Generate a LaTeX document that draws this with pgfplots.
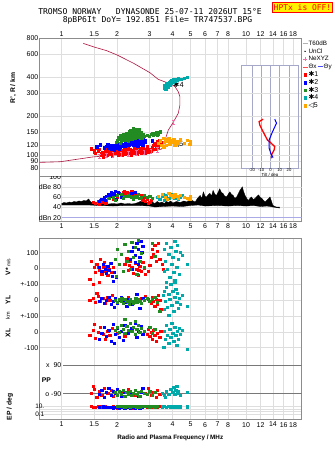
\documentclass[border=0pt]{standalone}
\usepackage{pgfplots}
\pgfplotsset{compat=1.18}
\usepackage{fontspec}
\setmainfont{Liberation Sans}
\newfontfamily\mono{DejaVu Sans Mono}
\newfontfamily\dejavu{DejaVu Sans}
\definecolor{c1}{RGB}{255,0,0}
\definecolor{c2}{RGB}{0,0,255}
\definecolor{c3}{RGB}{34,139,34}
\definecolor{c4}{RGB}{0,170,170}
\definecolor{c5}{RGB}{255,165,0}
\definecolor{prof}{RGB}{175,20,65}
\definecolor{pinkI}{RGB}{240,110,170}
\definecolor{gridc}{RGB}{222,222,222}
\definecolor{axc}{RGB}{140,140,140}
\definecolor{insc}{RGB}{165,168,200}
\definecolor{lav}{RGB}{170,170,230}
\definecolor{darkl}{RGB}{120,120,120}
\pgfdeclareplotmark{Ibar}{%
 \pgfpathmoveto{\pgfqpoint{0bp}{-2.2bp}}\pgfpathlineto{\pgfqpoint{0bp}{2.2bp}}%
 \pgfpathmoveto{\pgfqpoint{-1.3bp}{-2.2bp}}\pgfpathlineto{\pgfqpoint{1.3bp}{-2.2bp}}%
 \pgfpathmoveto{\pgfqpoint{-1.3bp}{2.2bp}}\pgfpathlineto{\pgfqpoint{1.3bp}{2.2bp}}%
 \pgfusepathqstroke}
\pgfplotsset{
 lgline/.style={legend image code/.code={\draw[##1] (0bp,0bp) -- (5bp,0bp);}},
 lgmark/.style={legend image code/.code={\draw[##1] plot coordinates {(2.5bp,0bp)};}},
 sq/.style={forget plot, only marks, mark=square*, mark size=1.15bp, color=#1, mark options={draw=none, fill=#1}},
}
\begin{document}
\begin{tikzpicture}
\path[use as bounding box] (0bp,0bp) rectangle (335bp,451bp);
% ---------- top panel ----------
\begin{axis}[anchor=south west, at={(39.5bp,274.3bp)}, scale only axis, width=262.2bp, height=138.7bp,
  xmode=log, ymode=log, xmin=0.758, xmax=20.05, ymin=68.7, ymax=800,
  xtick={1,1.5,2,3,4,5,6,7,8,10,12,14,16,18}, xticklabels={1,1.5,2,3,4,5,6,7,8,10,12,14,16,18},
  ytick={80,90,100,120,150,200,300,400,600,800}, yticklabels={80,90,100,120,150,200,300,400,600,800},
  minor xtick={}, minor ytick={}, xmajorgrids, ymajorgrids, major grid style={gridc, line width=0.5bp},
  axis line style={axc, line width=0.6bp}, major tick length=0pt,
  tick label style={font=\fontsize{7}{7}\selectfont, inner sep=1bp},
  xticklabel pos=upper,
  legend style={at={(1,1)}, anchor=north west, xshift=0.3bp, yshift=-1.5bp, draw=none, fill=none,
    font=\fontsize{6.3}{6.3}\selectfont, row sep=0.2bp, inner sep=0pt,
    nodes={inner xsep=0.6bp, inner ysep=0.3bp, text height=5.4bp, text depth=1.6bp}},
  legend cell align=left]
\addlegendimage{lgline, gray!60, line width=0.8bp}\addlegendentry{T60dB}
\addlegendimage{only marks, mark=*, mark size=0.4bp, black, lgmark}\addlegendentry{UnCl}
\addlegendimage{only marks, mark=+, mark size=2bp, pinkI, lgmark}\addlegendentry{NeXYZ}
\addlegendimage{lgline, c1!70, line width=0.6bp}\addlegendentry{Θx\,\textcolor{c2!70}{\rule[1.8bp]{5bp}{0.6bp}}\,Θy}
\addlegendimage{only marks, mark=square*, mark size=1.4bp, c1, lgmark}\addlegendentry{\fontsize{7}{7}\selectfont{\dejavu ✱}1}
\addlegendimage{only marks, mark=square*, mark size=1.4bp, c2, lgmark}\addlegendentry{\fontsize{7}{7}\selectfont{\dejavu ✱}2}
\addlegendimage{only marks, mark=square*, mark size=1.4bp, c3, lgmark}\addlegendentry{\fontsize{7}{7}\selectfont{\dejavu ✱}3}
\addlegendimage{only marks, mark=square*, mark size=1.4bp, c4, lgmark}\addlegendentry{\fontsize{7}{7}\selectfont{\dejavu ✱}4}
\addlegendimage{only marks, mark=square*, mark size=1.4bp, c5, lgmark}\addlegendentry{\fontsize{7}{7}\selectfont{\dejavu ◁}5}
% red *1
\addplot[sq=c1] coordinates {(1.45,113)(1.5,110)(1.52,104)(1.58,108)(1.62,101)(1.66,106)(1.7,103)(1.72,110)(1.76,100)(1.8,105)(1.83,108)(1.86,102)(1.9,106)(1.93,111)(1.96,104)(2.0,108)(2.02,101)(2.05,113)(2.08,106)(2.1,110)(2.14,103)(2.17,108)(2.2,113)(2.23,105)(2.27,110)(2.3,115)(2.33,107)(2.36,112)(2.4,104)(2.43,109)(2.47,114)(2.5,107)(2.54,111)(2.58,116)(2.62,108)(2.66,113)(2.7,110)(2.75,115)(2.8,108)(2.85,112)(2.9,117)(3.0,112)(3.1,115)(3.15,120)(3.2,124)(3.25,118)(3.3,128)(3.35,122)(3.4,130)(3.45,126)(1.55,115)(2.25,118)(2.6,118)(2.0,117)(1.68,98)(1.88,99)(2.12,100)(2.38,101)(2.56,103)(2.72,104)(2.95,106)(3.05,109)(1.6,112)(1.78,113)(2.45,106)(2.65,106)(2.85,105)(3.2,112)(1.5,106)(1.64,104)(1.74,107)(1.84,104)(1.98,110)(2.04,105)(2.15,106)(2.28,107)(2.35,104)(2.52,109)(2.68,108)(2.78,111)(2.92,110)(3.08,112)(3.25,113)(3.35,116)(3.42,120)(2.2,102)(2.48,104)(1.92,108)};
% blue *2
\addplot[sq=c2] coordinates {(1.55,117)(1.62,121)(1.7,115)(1.75,118)(1.8,114)(1.84,117)(1.87,120)(1.9,113)(1.92,116)(1.95,119)(1.97,122)(2.0,114)(2.02,118)(2.05,121)(2.08,116)(2.1,124)(2.13,119)(2.16,122)(2.2,118)(2.22,126)(2.25,121)(2.28,124)(2.3,129)(2.33,120)(2.36,126)(2.38,131)(2.4,123)(2.43,128)(2.46,133)(2.48,120)(2.5,126)(2.52,131)(2.55,124)(2.57,135)(2.6,128)(2.63,122)(2.65,131)(2.68,126)(2.7,134)(2.73,129)(2.76,123)(2.78,132)(2.82,127)(2.85,130)(1.78,121)(1.93,111)(2.06,112)(2.58,119)(3.1,130)(1.85,112)(1.99,117)(2.45,120)(2.62,125)(2.75,120)(1.88,116)(1.96,114)(2.04,116)(2.18,121)(2.32,124)(2.42,126)(2.54,128)(2.66,128)(2.72,124)(2.8,130)(2.35,122)(2.5,122)};
% green *3
\addplot[sq=c3] coordinates {(2.0,130)(2.02,138)(2.05,134)(2.08,142)(2.1,128)(2.12,136)(2.15,145)(2.18,132)(2.2,140)(2.23,148)(2.25,135)(2.28,143)(2.3,130)(2.32,152)(2.35,139)(2.38,146)(2.4,133)(2.42,155)(2.45,141)(2.48,149)(2.5,136)(2.52,158)(2.55,144)(2.58,151)(2.6,138)(2.63,147)(2.66,141)(2.7,150)(2.73,137)(2.76,145)(2.8,140)(2.9,143)(2.98,140)(3.05,145)(3.12,148)(3.2,146)(3.28,150)(3.35,147)(3.42,152)(2.45,162)(2.62,160)(2.35,155)(1.97,126)(2.07,125)(2.22,132)(2.4,142)(2.56,139)(2.68,135)(2.14,140)(2.26,138)(2.36,143)(2.46,146)(2.54,148)(2.64,144)(2.72,141)(2.5,152)(2.3,146)(3.15,143)(3.3,144)};
% teal *4
\addplot[sq=c4] coordinates {(3.6,330)(3.62,345)(3.65,338)(3.68,352)(3.7,340)(3.72,360)(3.75,348)(3.78,335)(3.8,355)(3.83,365)(3.86,350)(3.9,372)(3.93,360)(3.96,378)(4.0,366)(4.05,382)(4.1,372)(4.15,385)(4.2,378)(4.3,390)(4.45,385)(4.6,395)(4.8,398)(3.64,322)(3.7,326)};
% orange *5
\addplot[sq=c5] coordinates {(3.35,124)(3.42,130)(3.48,120)(3.55,135)(3.6,126)(3.65,132)(3.7,120)(3.75,128)(3.8,136)(3.85,123)(3.9,131)(4.0,126)(4.05,134)(4.1,121)(4.2,129)(4.3,125)(4.4,132)(4.6,125)(4.8,131)(4.95,122)(5.0,128)(3.58,117)};
% profile
\addplot[forget plot, prof, line width=0.6bp] coordinates {(0.758,88.5)(0.98,89.5)(1.48,97.5)(2.0,101)(2.25,103)(2.66,106)(3.14,108)(3.48,112)(3.58,120)(3.63,130)(3.79,157)(4.03,180)(4.29,211)(4.38,244)(4.38,283)(4.29,309)(4.12,338)(3.87,358)(3.63,368)(3.34,385)(3.01,433)(2.45,512)(2.0,592)(1.75,640)(1.52,678)(1.31,727)};
\addplot[forget plot, only marks, mark=Ibar, pinkI, mark options={line width=0.5bp}] coordinates {(1.6,99)(1.75,100)(1.9,101)(2.1,102)(2.3,103)(2.55,105)(2.8,106)(3.05,108)(3.3,111)(4.03,181)};
\node[font=\fontsize{7.5}{7.5}\selectfont] at (axis cs:2.55,106) {{\dejavu ✱}1};
\node[font=\fontsize{7.5}{7.5}\selectfont] at (axis cs:2.38,120) {{\dejavu ✱}2};
\node[font=\fontsize{7.5}{7.5}\selectfont] at (axis cs:2.58,139) {{\dejavu ✱}3};
\node[font=\fontsize{7.5}{7.5}\selectfont] at (axis cs:4.3,348) {{\dejavu ✱}4};
\node[font=\fontsize{7.5}{7.5}\selectfont] at (axis cs:4.3,122) {{\dejavu ◁}5};
\end{axis}
% ---------- inset ----------
\begin{axis}[at={(241.7bp,282.7bp)}, anchor=south west, scale only axis, width=56.6bp, height=103.3bp,
  xmin=-31, xmax=30, ymode=log, ymin=79.6, ymax=496,
  xtick={-20,-10,0,10,20}, xticklabels={-20,-10,0,10,20},
  ytick={80,90,100,120,150,200,300,400}, yticklabels={},
  xmajorgrids, ymajorgrids, major x grid style={insc, line width=0.6bp}, major y grid style={gridc, line width=0.5bp},
  axis line style={insc, line width=0.6bp}, major tick length=0pt, minor ytick={},
  axis background/.style={fill=white},
  xticklabel style={font=\fontsize{4.2}{4.2}\selectfont, inner sep=0.3bp},
  xlabel={Tilt / deg}, xlabel style={font=\fontsize{4.4}{4.4}\selectfont, inner sep=0pt, at={(axis description cs:0.5,0)}, anchor=north, yshift=-5bp}]
\addplot[c1, line width=1.3bp] coordinates {(-7.9,190)(-12.2,182)(-11.5,171)(-7.9,152)(-3.2,131)(-0.75,127)(4.6,117)(3.9,110)(1.1,101)(1.1,95)};
\addplot[c2, line width=1bp] coordinates {(4.6,190)(6.5,177)(2.2,152)(-1.5,131)(-1.5,114)(0.3,104)(2.8,96)};
\end{axis}
% ---------- dB panel ----------
\begin{axis}[anchor=south west, at={(39.5bp,229.3bp)}, scale only axis, width=262.2bp, height=45bp,
  xmode=log, xmin=0.758, xmax=20.05, ymin=12, ymax=101,
  xtick={1,1.5,2,3,4,5,6,7,8,10,12,14,16,18}, xticklabels={1,1.5,2,3,4,5,6,7,8,10,12,14,16,18},
  ytick=\empty, minor xtick={}, xmajorgrids, major grid style={gridc, line width=0.5bp},
  axis line style={axc, line width=0.6bp}, major tick length=0pt,
  tick label style={font=\fontsize{7}{7}\selectfont, inner sep=1bp}, xticklabel style={yshift=-0.5bp}]
\addplot[forget plot, gridc, line width=0.5bp] coordinates {(1.01,40)(20.05,40)};
\addplot[forget plot, gridc, line width=0.5bp] coordinates {(1.01,60)(20.05,60)};
\addplot[forget plot, gridc, line width=0.5bp] coordinates {(1.01,80)(20.05,80)};
\addplot[forget plot, lav, line width=0.7bp] coordinates {(1.01,20)(20.05,20)};
\addplot[forget plot, fill=black, draw=black, line width=0.3bp] coordinates {(1.0,48)(1.03,50)(1.06,49)(1.1,51)(1.13,50)(1.17,52)(1.2,51)(1.24,53)(1.28,52)(1.32,54)(1.36,53)(1.4,57)(1.43,52)(1.47,49)(1.52,48)(1.6,47)(1.7,48)(1.8,47)(1.9,48)(2.0,47)(2.1,49)(2.2,47)(2.3,48)(2.4,47)(2.5,48)(2.6,50)(2.7,53)(2.75,56)(2.8,52)(2.85,55)(2.9,50)(3.0,49)(3.1,51)(3.2,48)(3.3,52)(3.4,49)(3.5,51)(3.6,48)(3.7,52)(3.8,50)(3.9,53)(4.0,49)(4.2,52)(4.4,50)(4.6,53)(4.8,51)(4.97,61)(5.1,54)(5.3,51)(5.45,58)(5.64,64)(5.75,58)(5.87,71)(6.0,62)(6.12,61)(6.25,66)(6.37,68)(6.5,63)(6.63,74)(6.78,66)(6.92,64)(7.05,70)(7.2,77)(7.35,70)(7.5,68)(7.65,63)(7.84,61)(8.0,66)(8.17,71)(8.35,66)(8.52,64)(8.7,58)(8.9,61)(9.1,68)(9.27,74)(9.55,81)(9.7,72)(9.88,64)(10.1,58)(10.3,54)(10.5,58)(10.7,61)(10.95,56)(11.2,58)(11.45,62)(11.7,65)(11.95,60)(12.2,58)(12.45,54)(12.7,51)(13.1,56)(13.5,61)(13.75,52)(14.0,44)(14.6,41)(15.2,41)(15.2,39)(14.6,40)(14.0,41)(13.0,43)(12.0,42)(11.0,44)(10.0,43)(9.0,44)(8.0,43)(7.0,44)(6.0,43)(5.5,45)(5.0,44)(4.5,42)(4.0,43)(3.5,42)(3.2,41)(3.0,43)(2.6,44)(2.2,44)(1.9,43)(1.6,44)(1.4,45)(1.2,45)(1.0,45)};
\addplot[sq=c1] coordinates {(1.48,50)(1.52,48)(1.58,52)(1.62,55)(1.67,51)(1.7,58)(1.75,54)(1.8,60)(1.85,62)(1.9,56)(1.95,65)(2.0,60)(2.05,68)(2.1,63)(2.15,70)(2.2,66)(2.25,71)(2.3,64)(2.35,69)(2.4,72)(2.45,66)(2.5,70)(2.55,62)(2.6,67)(2.65,58)(2.7,64)(2.75,55)(2.8,60)(2.85,52)(2.9,57)(3.0,50)(3.05,54)(2.95,48)(1.6,47)(1.73,49)(2.28,68)(2.42,68)(2.18,72)(2.52,66)};
\addplot[sq=c2] coordinates {(1.6,52)(1.65,56)(1.7,60)(1.75,63)(1.8,66)(1.85,70)(1.9,68)(1.95,72)(2.0,64)(2.05,69)(2.1,61)(1.72,55)(1.88,62)(2.4,68)(2.5,70)(2.6,66)(1.98,57)(1.82,64)(1.92,66)(2.02,70)};
\addplot[sq=c3] coordinates {(1.8,58)(1.9,61)(2.0,64)(2.1,66)(2.2,62)(2.3,65)(2.4,60)(2.5,63)(2.6,67)(2.7,61)(2.8,64)(2.9,60)(3.0,62)(3.1,58)(2.15,59)(2.45,57)(1.95,55)(2.65,58)(2.25,63)(2.55,61)(2.35,62)};
\addplot[sq=c4] coordinates {(3.3,60)(3.4,57)(3.5,62)(3.6,55)(3.7,64)(3.8,58)(3.9,61)(4.0,66)(4.1,59)(4.2,62)(4.3,56)(4.4,60)(4.5,64)(3.55,67)};
\addplot[sq=c5] coordinates {(3.35,63)(3.5,66)(3.65,61)(3.8,68)(3.9,64)(4.0,60)(4.1,67)(4.2,63)(4.3,58)(4.4,65)(4.6,61)(4.8,59)(4.95,57)(5.0,62)(3.75,57)};
\node[anchor=east, font=\fontsize{7}{7}\selectfont, inner sep=0.5bp] at (axis cs:1.0,100) {100};
\node[anchor=east, font=\fontsize{7}{7}\selectfont, inner sep=0.5bp] at (axis cs:1.0,80) {dBe 80};
\node[anchor=east, font=\fontsize{7}{7}\selectfont, inner sep=0.5bp] at (axis cs:1.0,60) {60};
\node[anchor=east, font=\fontsize{7}{7}\selectfont, inner sep=0.5bp] at (axis cs:1.0,40) {40};
\node[anchor=east, font=\fontsize{7}{7}\selectfont, inner sep=0.5bp] at (axis cs:1.0,20) {dBn 20};
\end{axis}
% ---------- lower panel ----------
\begin{axis}[anchor=south west, at={(39.5bp,32bp)}, scale only axis, width=262.2bp, height=181bp,
  xmode=log, xmin=0.758, xmax=20.05, ymin=0, ymax=181,
  xtick={1,1.5,2,3,4,5,6,7,8,10,12,14,16,18}, xticklabels={1,1.5,2,3,4,5,6,7,8,10,12,14,16,18},
  ytick={5,7.3,9.7,12.3,71.3,86.7,103,119,135,150.7,166.3}, yticklabels={,,,,-100,0,+-100,0,+-100,0,100},
  minor xtick={}, xmajorgrids, ymajorgrids, major grid style={gridc, line width=0.5bp},
  axis line style={axc, line width=0.6bp}, major tick length=0pt,
  tick label style={font=\fontsize{7}{7}\selectfont, inner sep=1bp}, xticklabel style={yshift=-2bp}]
\addplot[forget plot, darkl, line width=0.7bp] coordinates {(1.02,53.7)(20.05,53.7)};
\addplot[forget plot, darkl, line width=0.7bp] coordinates {(1.02,25.3)(20.05,25.3)};
% V*
\addplot[sq=c1] coordinates {(1.42,140)(1.45,158)(1.5,152)(1.52,147)(1.55,155)(1.6,149)(1.62,160)(1.65,145)(1.68,152)(1.7,157)(1.72,148)(1.75,153)(1.78,144)(1.8,150)(1.83,156)(1.86,147)(1.9,152)(2.2,155)(2.25,161)(2.3,149)(2.35,158)(2.4,152)(2.45,146)(2.5,156)(2.55,150)(2.6,144)(2.65,153)(2.7,148)(2.75,157)(2.8,151)(2.85,145)(3.05,162)(3.1,170)(3.15,165)(3.2,174)(3.25,158)(3.3,168)(3.4,160)(3.5,155)(3.55,150)(1.48,135)(1.6,137)(2.95,148)(3.0,154)(3.35,176)(1.58,152)(1.74,150)(2.32,154)(2.62,149)};
\addplot[sq=c2] coordinates {(1.6,152)(1.65,148)(1.68,155)(1.72,150)(1.75,146)(1.78,153)(1.8,149)(1.85,156)(1.88,143)(1.9,138)(1.92,147)(2.35,160)(2.4,168)(2.45,172)(2.5,164)(2.55,176)(2.6,170)(2.65,162)(2.68,178)(2.72,167)(2.75,173)(2.5,157)(2.6,155)(2.42,150)(1.98,142)};
\addplot[sq=c3] coordinates {(1.95,160)(2.0,170)(2.05,155)(2.1,165)(2.15,148)(2.2,175)(2.25,158)(2.3,168)(2.35,150)(2.4,177)(2.45,162)(2.5,172)(2.55,145)(2.6,179)(2.65,158)(2.7,166)(2.8,152)(1.97,143)(3.1,176)(3.2,163)};
\addplot[sq=c4] coordinates {(3.6,170)(3.65,158)(3.7,176)(3.75,150)(3.8,165)(3.85,142)(3.9,172)(3.95,155)(4.0,162)(4.05,147)(4.1,178)(4.15,168)(4.2,152)(4.25,174)(4.3,160)(4.35,145)(4.4,167)(4.1,139)(3.7,137)(4.8,155)(4.5,164)(3.6,148)};
% YL
\addplot[sq=c1] coordinates {(1.42,119)(1.48,121)(1.52,117)(1.58,123)(1.62,118)(1.68,121)(1.72,116)(1.78,122)(1.82,119)(1.88,124)(2.0,117)(2.15,120)(2.3,122)(2.5,118)(2.7,121)(2.85,123)(2.95,120)(3.05,116)(3.1,122)(3.15,118)(3.2,113)(3.25,120)(3.3,115)(3.4,119)(3.45,110)(1.55,126)(3.35,124)};
\addplot[sq=c2] coordinates {(1.6,118)(1.65,121)(1.7,116)(1.75,119)(1.8,122)(1.85,115)(1.9,118)(1.95,121)(2.0,116)(2.05,119)(2.1,122)(2.2,117)(2.3,120)(2.4,115)(2.5,121)(2.6,118)(2.7,116)(2.75,121)(2.25,113)(2.55,125)(1.92,112)(2.65,111)};
\addplot[sq=c3] coordinates {(1.95,119)(2.0,117)(2.05,120)(2.1,118)(2.15,116)(2.2,120)(2.25,118)(2.3,117)(2.35,120)(2.4,118)(2.45,116)(2.5,119)(2.55,117)(2.6,120)(2.65,118)(2.7,116)(2.8,119)(2.9,121)(3.0,118)(3.1,120)(3.2,122)(3.3,117)(2.12,121)(2.32,115)(2.52,121)(3.4,108)};
\addplot[sq=c4] coordinates {(3.55,124)(3.6,128)(3.65,118)(3.7,132)(3.75,112)(3.8,125)(3.85,120)(3.9,135)(3.95,114)(4.0,128)(4.05,108)(4.1,122)(4.15,130)(4.2,117)(4.25,126)(4.3,111)(4.35,121)(4.4,115)(4.5,124)(4.8,113)(3.6,110)(4.1,137)(3.8,104)};
% XL
\addplot[sq=c1] coordinates {(1.42,84)(1.48,89)(1.52,81)(1.58,87)(1.62,92)(1.68,85)(1.72,80)(1.78,88)(1.82,84)(1.88,91)(1.5,95)(2.0,86)(2.2,83)(2.4,88)(2.9,85)(2.95,90)(3.0,83)(3.05,87)(3.1,80)(3.15,89)(3.2,84)(3.25,78)(3.3,86)(3.4,82)(3.45,88)};
\addplot[sq=c2] coordinates {(1.6,80)(1.65,86)(1.7,92)(1.75,83)(1.8,89)(1.85,78)(1.9,95)(1.95,85)(2.0,91)(2.05,82)(2.1,88)(2.2,94)(2.3,86)(2.4,91)(2.5,96)(2.6,88)(2.7,93)(2.75,85)(2.15,79)(1.92,76)(2.55,82)};
\addplot[sq=c3] coordinates {(1.95,89)(2.0,92)(2.05,87)(2.1,94)(2.15,90)(2.2,86)(2.25,93)(2.3,89)(2.35,96)(2.4,88)(2.45,92)(2.5,85)(2.55,90)(2.6,94)(2.65,87)(2.7,91)(2.8,88)(3.0,92)(3.1,86)(3.2,90)(2.2,100)(2.5,98)};
\addplot[sq=c4] coordinates {(3.6,88)(3.65,80)(3.7,94)(3.75,84)(3.8,76)(3.85,90)(3.9,82)(3.95,96)(4.0,86)(4.05,78)(4.1,92)(4.15,84)(4.2,74)(4.25,88)(4.3,80)(4.35,91)(4.4,85)(4.5,89)(4.8,70)(3.58,72)};
% PP
\addplot[sq=c1] coordinates {(1.45,26)(1.5,30)(1.55,22)(1.6,28)(1.65,24)(1.7,31)(1.78,26)(1.85,29)(1.9,23)(2.1,27)(2.3,30)(2.5,24)(2.7,28)(2.85,26)(2.95,31)(3.05,24)(3.15,27)(3.25,22)(3.3,29)(3.4,25)(1.48,33)};
\addplot[sq=c2] coordinates {(1.6,25)(1.65,29)(1.7,22)(1.75,27)(1.8,31)(1.85,24)(1.9,28)(1.95,26)(2.0,30)(2.1,23)(2.2,27)(2.35,25)(2.5,29)(2.6,23)(2.7,27)(2.75,31)};
\addplot[sq=c3] coordinates {(1.95,27)(2.0,24)(2.05,28)(2.1,25)(2.15,29)(2.2,23)(2.25,27)(2.3,25)(2.35,28)(2.4,24)(2.45,26)(2.5,29)(2.55,25)(2.6,27)(2.65,23)(2.7,28)(2.8,26)(2.9,25)(3.0,28)(3.1,24)(3.2,27)};
\addplot[sq=c4] coordinates {(3.5,26)(3.6,24)(3.7,28)(3.8,25)(3.9,30)(4.0,27)(4.05,32)(4.1,25)(4.15,29)(4.2,33)(4.25,26)(4.3,28)(4.4,24)(4.8,27)(3.65,22)};
% EP
\addplot[sq=c1] coordinates {(1.45,12.5)(1.52,12)(1.58,12.6)(1.65,12.2)(1.72,12.8)(1.8,12.1)(1.9,12.5)(2.0,11.2)(2.2,11.5)(2.4,11.3)(2.6,11.6)(2.8,12.6)(2.9,12.2)(3.0,12.8)(3.1,12.3)(3.2,12.6)(3.3,12.1)(3.4,12.5)(1.48,11.8)};
\addplot[sq=c2] coordinates {(1.6,11.8)(1.68,12.2)(1.75,11.6)(1.82,12.0)(1.9,11.4)(1.98,11.9)(2.05,11.3)(2.12,11.7)(2.2,11.2)(2.28,11.6)(2.35,11.0)(2.42,11.5)(2.5,11.2)(2.58,11.6)(2.65,11.1)(2.72,11.5)};
\addplot[sq=c3] coordinates {(2.0,12.6)(2.05,12.9)(2.1,12.5)(2.15,12.8)(2.2,12.4)(2.25,12.9)(2.3,12.6)(2.35,12.3)(2.4,12.8)(2.45,12.5)(2.5,12.9)(2.55,12.4)(2.6,12.7)(2.65,12.3)(2.7,12.8)(2.8,12.5)(2.9,12.9)(3.0,12.4)(3.1,12.7)(3.2,12.4)(3.3,12.8)};
\addplot[sq=c4] coordinates {(3.5,12.3)(3.6,12.6)(3.7,12.1)(3.8,12.5)(3.9,12.2)(4.0,12.6)(4.1,12.1)(4.2,12.4)(4.3,12.7)(4.4,12.2)(4.8,12.4)};
\end{axis}
% ---------- texts ----------
\node[font=\mono\fontsize{8.1}{8.1}\selectfont, inner sep=0pt] at (150bp,439bp) {TROMSO NORWAY\ \ \ DYNASONDE 25-07-11 2026UT 15°E};
\node[font=\mono\fontsize{8.1}{8.1}\selectfont, inner sep=0pt] at (157.5bp,431bp) {8pBP6It DoY= 192.851 File= TR747537.BPG};
\node[draw=red, fill=yellow, text=red, line width=0.8bp, inner xsep=1.6bp, inner ysep=0pt, minimum height=10bp, font=\mono\fontsize{8}{8}\selectfont] at (302.5bp,443.3bp) {HPTx is OFF!};
\node[rotate=90, font=\bfseries\fontsize{6.8}{6.8}\selectfont] at (13.3bp,363bp) {R', R / km};
\node[rotate=90, font=\fontsize{6.8}{6.8}\selectfont] at (8bp,184bp) {\textbf{V*}\,{\fontsize{5}{5}\selectfont m/s}};
\node[rotate=90, font=\bfseries\fontsize{6.8}{6.8}\selectfont] at (8bp,151bp) {YL};
\node[rotate=90, font=\fontsize{5.5}{5.5}\selectfont] at (8bp,135bp) {km};
\node[rotate=90, font=\bfseries\fontsize{6.8}{6.8}\selectfont] at (8bp,118bp) {XL};
\node[rotate=90, font=\bfseries\fontsize{6.8}{6.8}\selectfont] at (10bp,44bp) {EP / deg};
\node[font=\bfseries\fontsize{6.8}{6.8}\selectfont] at (46.3bp,71bp) {PP};
\node[anchor=east, font=\fontsize{7}{7}\selectfont, inner sep=0.5bp] at (62bp,85.7bp) {x\ \ 90};
\node[anchor=east, font=\fontsize{7}{7}\selectfont, inner sep=0.5bp] at (62bp,57.3bp) {o -90};
\node[anchor=east, font=\fontsize{6.5}{6.5}\selectfont, inner sep=0.5bp] at (45bp,44.6bp) {10.};
\node[anchor=east, font=\fontsize{6.5}{6.5}\selectfont, inner sep=0.5bp] at (45bp,36.6bp) {0.1};
\node[font=\bfseries\fontsize{6.3}{6.3}\selectfont] at (170.3bp,12.7bp) {Radio and Plasma Frequency / MHz};
\end{tikzpicture}
\end{document}
